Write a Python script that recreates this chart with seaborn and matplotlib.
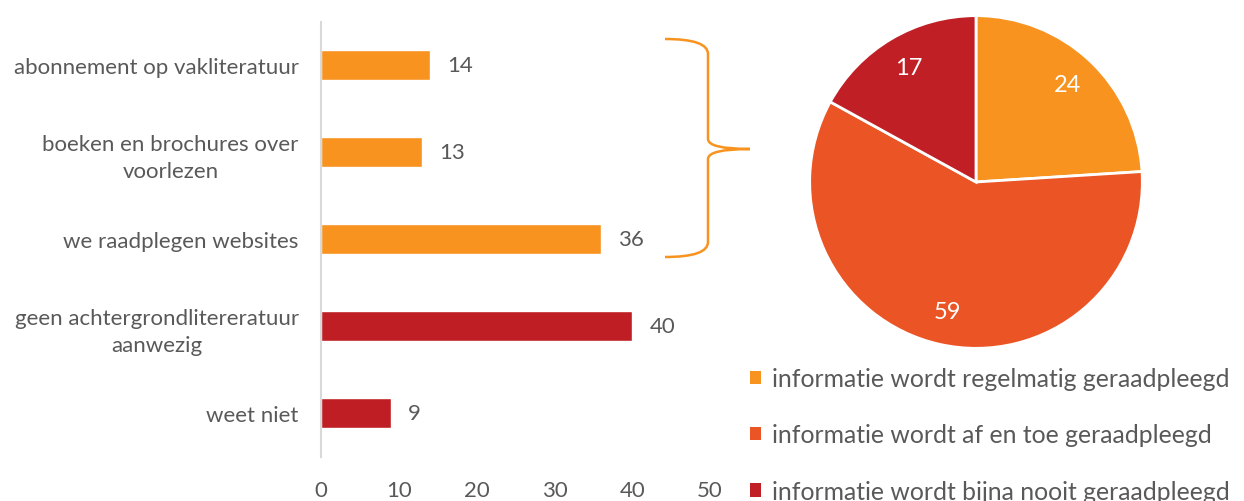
import matplotlib
matplotlib.use('Agg')
import matplotlib.pyplot as plt
from matplotlib.patches import PathPatch, Patch
from matplotlib.path import Path
import seaborn as sns
import pandas as pd

# bar chart data
categories = ['abonnement op vakliteratuur',
              'boeken en brochures over\nvoorlezen',
              'we raadplegen websites',
              'geen achtergrondlitereratuur\naanwezig',
              'weet niet']
counts = [14, 13, 36, 40, 9]
bar_colors = ['#F7931E', '#F7931E', '#F7931E', '#BE1E24', '#BE1E24']

# pie chart data
pie_labels = ['informatie wordt regelmatig geraadpleegd',
              'informatie wordt af en toe geraadpleegd',
              'informatie wordt bijna nooit geraadpleegd']
pie_values = [24, 59, 17]
pie_colors = ['#F7931E', '#EB5424', '#C01F26']

x_ticks = [0, 10, 20, 30, 40, 50]

sns.set_style('white')
plt.rcParams['font.family'] = ['Lato', 'DejaVu Sans']
grey = '#595959'

fig = plt.figure(figsize=(12.44, 5.02), dpi=100)

# bars
ax = fig.add_axes([321 / 1244, 1 - 457.5 / 502, 389 / 1244, 435 / 502])
df = pd.DataFrame({'cat': categories, 'n': counts})
sns.barplot(data=df, y='cat', x='n', hue='cat', palette=bar_colors,
            orient='h', width=0.345, legend=False, ax=ax, saturation=1)
ax.set_xlim(0, 50)
ax.set_ylim(4.5, -0.5)
ax.set_xticks(x_ticks)
ax.set_xlabel('')
ax.set_ylabel('')
for s in ['top', 'right', 'bottom']:
    ax.spines[s].set_visible(False)
ax.spines['left'].set_color('#D9D9D9')
ax.spines['left'].set_linewidth(1.5)
ax.tick_params(axis='x', length=0, pad=17, labelsize=16, labelcolor=grey)
ax.tick_params(axis='y', length=0, pad=16, labelsize=16, labelcolor=grey)
for lbl in ax.get_yticklabels():
    lbl.set_multialignment('center')
    lbl.set_linespacing(1.45)
for i, v in enumerate(counts):
    ax.text(v + 2.2, i, str(v), va='center', ha='left', fontsize=16, color=grey)

# pie
pax = fig.add_axes([808 / 1244, 1 - 351 / 502, 336 / 1244, 336 / 502])
pax.pie(pie_values, colors=pie_colors, startangle=90, counterclock=False,
        autopct=lambda p: f'{p * sum(pie_values) / 100:.0f}', pctdistance=0.8,
        wedgeprops=dict(edgecolor='white', linewidth=2),
        textprops=dict(color='white', fontsize=17))
pax.set_xlim(-1.01, 1.01)
pax.set_ylim(-1.01, 1.01)
pax.set_aspect('equal')

handles = [Patch(facecolor=c, edgecolor='none') for c in pie_colors]
fig.legend(handles, pie_labels, loc='upper left', bbox_to_anchor=(750 / 1244, 1 - 368 / 502),
           frameon=False, fontsize=17.8, labelcolor=grey, handlelength=0.45, handleheight=0.45,
           handletextpad=0.45, labelspacing=1.35, borderaxespad=0, borderpad=0)

# curly brace linking the orange bars to the pie
def fp(x, y):
    return (x / 1244, 1 - y / 502)

verts = [fp(665, 40), fp(708, 40), fp(708, 55), fp(708, 75),
         fp(708, 140), fp(708, 150), fp(750, 150),
         fp(708, 150), fp(708, 160), fp(708, 225),
         fp(708, 243), fp(708, 258), fp(665, 258)]
codes = [Path.MOVETO, Path.CURVE3, Path.CURVE3, Path.LINETO,
         Path.LINETO, Path.CURVE3, Path.CURVE3,
         Path.CURVE3, Path.CURVE3, Path.LINETO,
         Path.LINETO, Path.CURVE3, Path.CURVE3]
fig.patches.append(PathPatch(Path(verts, codes), transform=fig.transFigure,
                             facecolor='none', edgecolor='#F7931E', lw=1.8))

fig.savefig('out.png', dpi=100)
